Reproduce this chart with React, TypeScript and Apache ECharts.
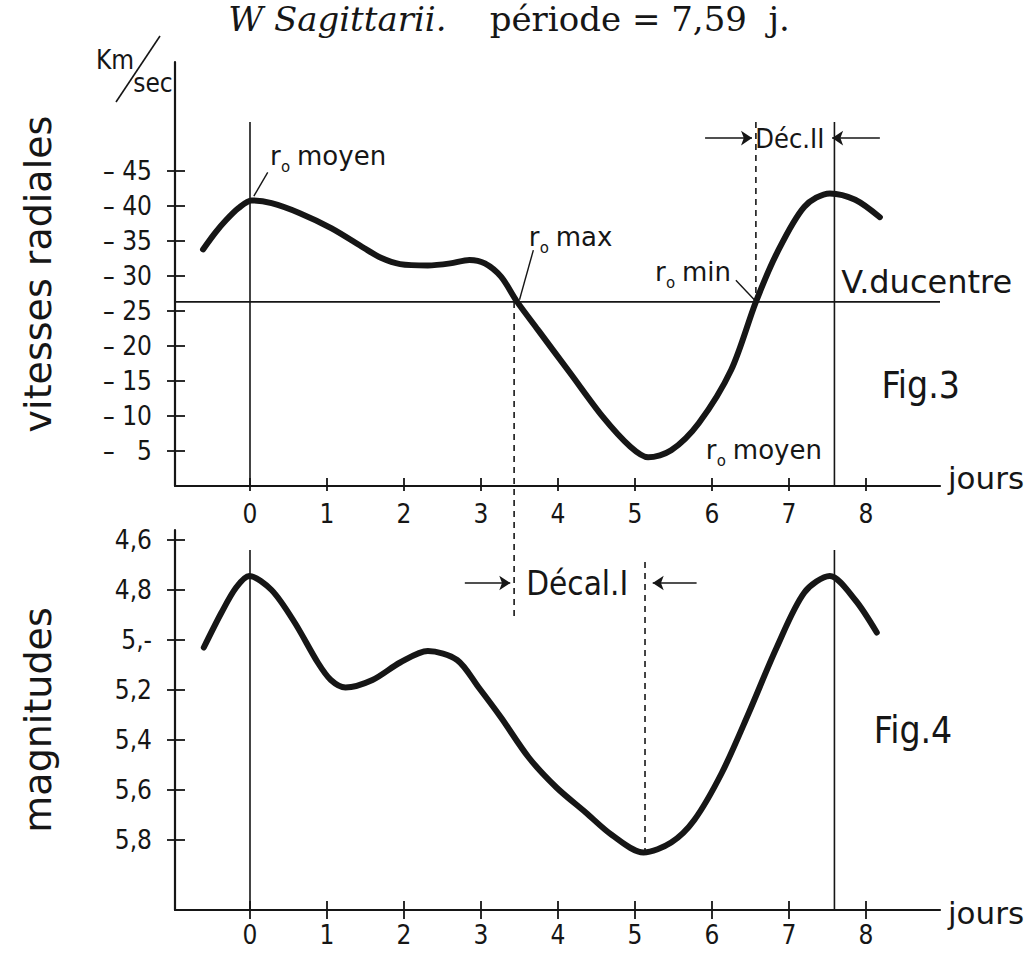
import React, { useEffect, useRef } from "react";
import * as echarts from "echarts";

// ---------- data ----------
const dayTicks = [0, 1, 2, 3, 4, 5, 6, 7, 8];
const velocityTicks = [-45, -40, -35, -30, -25, -20, -15, -10, -5];
const magnitudeTicks = [4.6, 4.8, 5.0, 5.2, 5.4, 5.6, 5.8];
const magnitudeTickLabels = ["4,6", "4,8", "5,-", "5,2", "5,4", "5,6", "5,8"];

const velocityPhase = [-0.61, -0.45, -0.31, -0.15, 0.02, 0.28, 0.64, 1.06, 1.48, 1.7, 1.95, 2.31, 2.6, 2.85, 3.05, 3.26, 3.47, 3.74, 4.16, 4.58, 4.94, 5.17, 5.47, 5.83, 6.25, 6.57, 6.84, 7.2, 7.53, 7.86, 8.18];
const velocityKms = [-33.8, -36.2, -38.0, -39.7, -40.8, -40.4, -39.0, -36.8, -34.0, -32.6, -31.7, -31.5, -31.8, -32.3, -31.8, -29.9, -26.3, -22.3, -16.1, -9.9, -5.6, -4.1, -5.1, -9.0, -16.6, -26.3, -33.2, -39.9, -41.8, -40.9, -38.4];

const magnitudePhase = [-0.6, -0.37, -0.18, -0.01, 0.28, 0.58, 0.88, 1.05, 1.24, 1.59, 1.95, 2.31, 2.69, 2.97, 3.26, 3.62, 3.98, 4.36, 4.7, 5.11, 5.47, 5.77, 6.13, 6.48, 6.84, 7.2, 7.53, 7.86, 8.14];
const magnitudeValues = [5.03, 4.89, 4.79, 4.744, 4.8, 4.93, 5.09, 5.16, 5.19, 5.16, 5.09, 5.044, 5.08, 5.19, 5.31, 5.47, 5.59, 5.69, 5.78, 5.85, 5.81, 5.72, 5.53, 5.29, 5.03, 4.81, 4.744, 4.84, 4.97];

const period = 7.59;
const centreVelocity = -26.3;
const maxRadiusPhase = 3.43;
const minRadiusPhase = 6.57;
const lightMinimumPhase = 5.13;
const lightMinimumMag = 5.85;

// axis extents
const xRange = [-0.974, 8.961];
const velocityRange = [-60.57, 0];
const magnitudeRange = [4.56, 6.08];

// ---------- styling ----------
const INK = "#161616";
const LETTER = '"DejaVu Sans Condensed", "DejaVu Sans", sans-serif';
const LETTER_W = '"DejaVu Sans", sans-serif';
const SERIF = '"DejaVu Serif", "Liberation Serif", serif';

const zip = (xs: number[], ys: number[]) => xs.map((x, i) => [x, ys[i]]);

// primary axis: ticks crossing the line (axis shifted into the grid, outward ticks) and labels;
// secondary axis: the axis line itself
function xAxesFor(gridIndex: number, labelMargin: number, tickShift: number, tickLen: number) {
  const common = {
    type: "value",
    gridIndex,
    min: xRange[0],
    max: xRange[1],
    position: "bottom",
    splitLine: { show: false },
  };
  return [
    {
      ...common,
      offset: -tickShift,
      axisLine: { show: false, onZero: false },
      axisTick: { show: true, customValues: dayTicks, length: tickLen, lineStyle: { color: INK, width: 1.8 } },
      axisLabel: { show: true, customValues: dayTicks, margin: labelMargin, color: INK, fontFamily: LETTER, fontSize: 26 },
    },
    {
      ...common,
      axisLine: { show: true, onZero: false, lineStyle: { color: INK, width: 2.2 } },
      axisTick: { show: false },
      axisLabel: { show: false },
    },
  ];
}

function yAxesFor(gridIndex: number, range: number[], ticks: number[], fmt: (v: number) => string, name: string) {
  const common = {
    type: "value",
    gridIndex,
    min: range[0],
    max: range[1],
    inverse: true,
    position: "left",
    splitLine: { show: false },
  };
  return [
    {
      ...common,
      offset: -10,
      axisLine: { show: false, onZero: false },
      axisTick: { show: true, customValues: ticks, length: 18, lineStyle: { color: INK, width: 1.8 } },
      axisLabel: { show: true, customValues: ticks, margin: 33, color: INK, fontFamily: LETTER, fontSize: 26, formatter: fmt },
    },
    {
      ...common,
      axisLine: { show: true, onZero: false, lineStyle: { color: INK, width: 2.2 } },
      axisTick: { show: false },
      axisLabel: { show: false },
      name,
      nameLocation: "middle",
      nameGap: 118,
      nameTextStyle: { color: INK, fontFamily: LETTER_W, fontSize: 38 },
    },
  ];
}

const thin = (width = 1.6, type: any = "solid") => ({ color: INK, width, type });

function seg(name: string, grid: number, pts: number[][], width = 1.6, type: any = "solid", extra: any = {}) {
  return {
    name,
    type: "line",
    xAxisIndex: grid * 2,
    yAxisIndex: grid * 2,
    data: pts,
    symbol: "none",
    silent: true,
    lineStyle: thin(width, type),
    z: 3,
    ...extra,
  };
}

function arrowMarks(pairs: number[][][]) {
  return {
    silent: true,
    symbol: ["none", "arrow"],
    symbolSize: 11,
    label: { show: false },
    lineStyle: { color: INK, width: 1.6, type: "solid" },
    emphasis: { disabled: true },
    data: pairs.map(([a, b]) => [{ coord: a }, { coord: b }]),
  };
}

function buildOption() {
  const velFmt = (v: number) => {
    const a = Math.abs(v);
    return "– " + (a < 10 ? "\u2007" : "") + a;
  };
  const magFmt = (v: number) => {
    const i = magnitudeTicks.findIndex((t) => Math.abs(t - v) < 1e-6);
    return i >= 0 ? magnitudeTickLabels[i] : "";
  };
  return {
    animation: false,
    backgroundColor: "#ffffff",
    grid: [
      { left: 175, right: 89, top: 62, height: 424 },
      { left: 175, right: 89, top: 530, height: 380 },
    ],
    xAxis: [...xAxesFor(0, 23, 8, 13), ...xAxesFor(1, 21, 9, 18)],
    yAxis: [
      ...yAxesFor(0, velocityRange, velocityTicks, velFmt, "vitesses radiales"),
      ...yAxesFor(1, magnitudeRange, magnitudeTicks, magFmt, "magnitudes"),
    ],
    series: [
      // ---- Fig. 3 : radial velocities ----
      {
        name: "vitesse radiale",
        type: "line",
        xAxisIndex: 0,
        yAxisIndex: 0,
        data: zip(velocityPhase, velocityKms),
        smooth: 0.3,
        symbol: "none",
        lineStyle: { color: INK, width: 6, cap: "round" },
        z: 5,
      },
      {
        ...seg("V. du centre", 0, [[xRange[0], centreVelocity], [xRange[1], centreVelocity]], 1.8),
        markLine: arrowMarks([
          [[5.91, -49.7], [6.52, -49.7]],
          [[8.18, -49.7], [7.56, -49.7]],
        ]),
      },
      seg("phase 0 (vitesse)", 0, [[0, -52], [0, 0]]),
      seg("période (vitesse)", 0, [[period, -52], [period, 0]]),
      seg("Déc II", 0, [[minRadiusPhase, -52], [minRadiusPhase, centreVelocity]], 1.6, [6, 5]),
      seg("r0 max", 0, [[maxRadiusPhase, centreVelocity], [maxRadiusPhase, 19.1]], 1.6, [6, 5], { clip: false }),
      seg("leader moyen", 0, [[0.05, -41.4], [0.23, -44.8]], 1.4),
      seg("leader max", 0, [[3.5, -26.6], [3.68, -33.7]], 1.4),
      seg("leader min", 0, [[6.31, -29.4], [6.55, -26.6]], 1.4),
      // ---- Fig. 4 : magnitudes ----
      {
        name: "magnitude",
        type: "line",
        xAxisIndex: 2,
        yAxisIndex: 2,
        data: zip(magnitudePhase, magnitudeValues),
        smooth: 0.3,
        symbol: "none",
        lineStyle: { color: INK, width: 6, cap: "round" },
        z: 5,
      },
      {
        ...seg("phase 0 (mag)", 1, [[0, 4.64], [0, magnitudeRange[1]]]),
        markLine: arrowMarks([
          [[2.79, 4.772], [3.38, 4.772]],
          [[5.8, 4.772], [5.23, 4.772]],
        ]),
      },
      seg("période (mag)", 1, [[period, 4.64], [period, magnitudeRange[1]]]),
      seg("Décal I", 1, [[lightMinimumPhase, 4.688], [lightMinimumPhase, lightMinimumMag]], 1.6, [6, 5]),
    ],
  };
}

function txt(x: number, y: number, text: string, size: number, family: string, align = "left", vAlign = "middle", extra: any = {}) {
  return {
    type: "text",
    x,
    y,
    silent: true,
    z: 10,
    style: { text, fontSize: size, fontFamily: family, fill: INK, align, verticalAlign: vAlign, ...extra },
  };
}

function buildGraphics(chart: any) {
  const at = (grid: number, x: number, y: number) =>
    chart.convertToPixel({ xAxisIndex: grid * 2, yAxisIndex: grid * 2 }, [x, y]) as number[];

  const rLabel = (p: number[], word: string) => [
    txt(p[0], p[1], "r", 26, LETTER_W),
    txt(p[0] + 11, p[1] + 11, "o", 15, LETTER_W),
    txt(p[0] + 27, p[1], word, 26, LETTER_W),
  ];

  const els: any[] = [];
  // title
  els.push({
    type: "text",
    x: 509,
    y: 19,
    silent: true,
    style: {
      text: "{i|W Sagittarii.}{n|    période = 7,59  j.}",
      align: "center",
      verticalAlign: "middle",
      fill: INK,
      rich: {
        i: { fontFamily: SERIF, fontStyle: "italic", fontSize: 34, fill: INK },
        n: { fontFamily: SERIF, fontSize: 34, fill: INK },
      },
    },
  });
  // Km / sec unit
  els.push(txt(115, 60, "Km", 26, LETTER, "center"));
  els.push(txt(153, 83, "sec", 26, LETTER, "center"));
  els.push({ type: "line", silent: true, shape: { x1: 116, y1: 102, x2: 160, y2: 36 }, style: { stroke: INK, lineWidth: 1.6 } });

  // "jours" at the end of both time axes
  const j1 = at(0, xRange[1], velocityRange[1]);
  els.push(txt(j1[0] + 8, j1[1] - 8, "jours", 31, LETTER_W));
  const j2 = at(1, xRange[1], magnitudeRange[1]);
  els.push(txt(j2[0] + 8, j2[1] + 3, "jours", 31, LETTER_W));

  // Fig. 3 annotations
  els.push(...rLabel(at(0, 0.26, -47.1), "moyen"));
  els.push(...rLabel(at(0, 3.62, -35.6), "max"));
  els.push(...rLabel(at(0, 5.26, -30.6), "min"));
  els.push(...rLabel(at(0, 5.92, -5.1), "moyen"));
  const vc = at(0, 7.68, -29.2);
  els.push(txt(vc[0], vc[1], "V.ducentre", 32, LETTER_W));
  const f3 = at(0, 8.2, -14.3);
  els.push(txt(f3[0], f3[1], "Fig.3", 37, LETTER));
  const d2 = at(0, 7.01, -49.7);
  els.push(txt(d2[0], d2[1], "Déc.II", 27, LETTER, "center"));

  // Fig. 4 annotations
  const d1 = at(1, 4.25, 4.772);
  els.push(txt(d1[0], d1[1], "Décal.I", 33, LETTER, "center"));
  const f4 = at(1, 8.1, 5.36);
  els.push(txt(f4[0], f4[1], "Fig.4", 37, LETTER));
  return els;
}

export default function App() {
  const ref = useRef<HTMLDivElement>(null);
  useEffect(() => {
    const chart = echarts.init(ref.current!, undefined, { renderer: "svg" });
    chart.setOption(buildOption() as any);
    chart.setOption({ graphic: buildGraphics(chart) } as any);
    return () => chart.dispose();
  }, []);
  return (
    <div
      ref={ref}
      style={{ position: "fixed", left: 0, top: 0, width: 1029, height: 962, background: "#ffffff" }}
    />
  );
}
